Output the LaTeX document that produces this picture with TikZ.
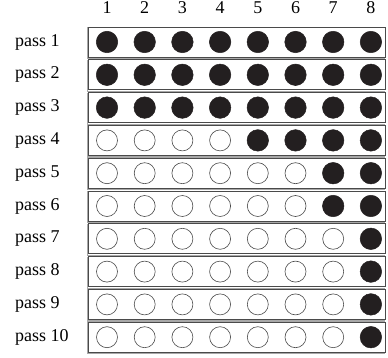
\documentclass[tikz,border=0pt]{standalone}
\usepackage{fontspec}
\setmainfont{Liberation Serif}
\definecolor{dot}{HTML}{231F20}
\definecolor{rim}{HTML}{4A4A4A}
\definecolor{shade}{HTML}{A8A8A8}

\begin{document}
\begin{tikzpicture}[
  x=1pt, y=-1pt,
  font=\fontsize{18}{20}\selectfont,
  rowbox/.style={draw=rim, line width=0.9pt},
  rowshade/.style={draw=shade, line width=1.2pt},
  full/.style={circle, fill=dot, draw=dot, line width=0.5pt, minimum size=21.5pt, inner sep=0pt},
  empty/.style={circle, fill=white, draw=rim, line width=0.6pt, minimum size=21pt, inner sep=0pt},
  lbl/.style={anchor=west, inner sep=0pt},
  colnum/.style={inner sep=0pt},
]
% Grid: columns at \xa + (j-1)*\dx, rows at \ya + (i-1)*\dy; boxes \xl ... \xr.
\def\xa{107}
\def\dx{37.7}
\def\ya{42}
\def\dy{32.8}
\def\xl{88}
\def\xr{385}
\def\hh{15}
\useasboundingbox (0,0) rectangle (388,358);

% --- column numbers ---------------------------------------------------------
\foreach \j in {1,...,8}
  \node[colnum] (num-\j) at ({\xa+(\j-1)*\dx}, 8) {\j};

% --- one box per pass; f = first filled column -------------------------------
\foreach \i/\f in {1/1, 2/1, 3/1, 4/5, 5/7, 6/7, 7/8, 8/8, 9/8, 10/8} {
  \pgfmathsetmacro\yy{\ya+(\i-1)*\dy}
  \draw[rowshade] (\xl-0.8, \yy-\hh) -- (\xl-0.8, \yy+\hh+1.6) -- (\xr, \yy+\hh+1.6);
  \draw[rowbox] (\xl, \yy-\hh) rectangle (\xr, \yy+\hh);
  \coordinate (row-\i) at (\xl, \yy);
  \node[lbl] (pass-\i) at (15, \yy) {pass \i};
  \foreach \j in {1,...,8} {
    \ifnum\j<\f
      \node[empty] (c-\i-\j) at ({\xa+(\j-1)*\dx}, \yy) {};
    \else
      \node[full] (c-\i-\j) at ({\xa+(\j-1)*\dx}, \yy) {};
    \fi
  }
}

\end{tikzpicture}
\end{document}
